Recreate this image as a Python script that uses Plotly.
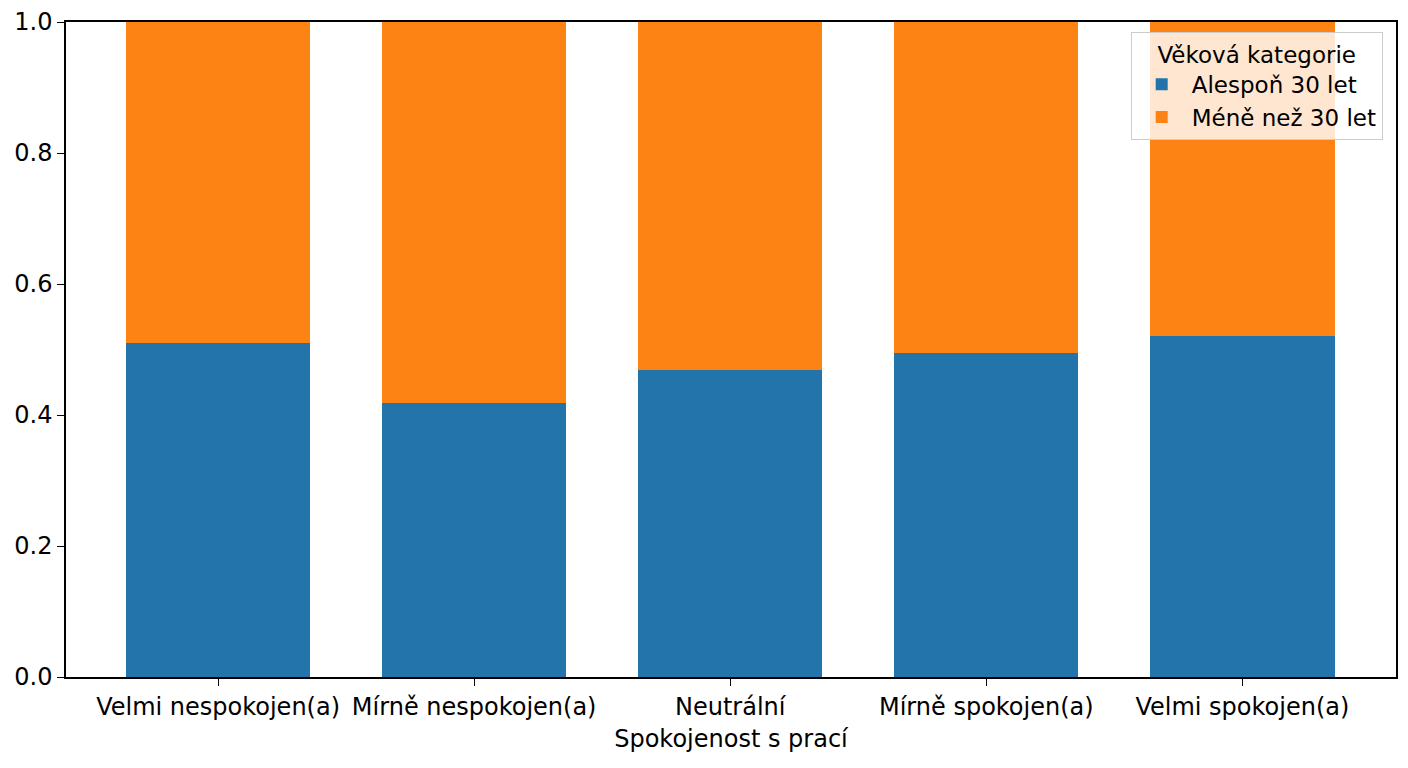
import plotly.graph_objects as go

# Data
kategorie = ["Velmi nespokojen(a)", "Mírně nespokojen(a)", "Neutrální",
             "Mírně spokojen(a)", "Velmi spokojen(a)"]
alespon_30 = [0.510, 0.419, 0.469, 0.495, 0.520]
mene_nez_30 = [0.490, 0.581, 0.531, 0.505, 0.480]

pozice = list(range(len(kategorie)))

fig = go.Figure()
fig.add_trace(go.Bar(x=pozice, y=alespon_30, name="Alespoň 30 let",
                     marker=dict(color="#2374ab", line=dict(width=0)), width=0.72))
fig.add_trace(go.Bar(x=pozice, y=mene_nez_30, name="Méně než 30 let",
                     marker=dict(color="#fd8315", line=dict(width=0)), width=0.72))

fig.update_layout(
    barmode="stack",
    width=1408, height=768,
    margin=dict(l=58, r=20, t=14, b=99, autoexpand=False),
    plot_bgcolor="white", paper_bgcolor="white",
    font=dict(family="DejaVu Sans", size=24, color="black"),
    legend=dict(
        title=dict(text="Věková kategorie", side="top center", font=dict(size=23)),
        x=0.99, y=0.985, xanchor="right", yanchor="top",
        bgcolor="rgba(255,255,255,0.8)", bordercolor="#cccccc", borderwidth=1,
        font=dict(size=23), traceorder="normal", itemwidth=50,
    ),
)
fig.update_xaxes(
    range=[-0.594, 4.6], tickvals=pozice, ticktext=kategorie,
    tickfont=dict(size=24), automargin=False,
    title=dict(text="Spokojenost s prací", standoff=11, font=dict(size=24)),
    showline=True, linecolor="black", linewidth=1.5, mirror=True,
    ticks="outside", ticklen=7, tickcolor="black", showgrid=False,
)
fig.update_yaxes(
    range=[0, 1], tickvals=[0, 0.2, 0.4, 0.6, 0.8, 1.0],
    tickformat=".1f", tickfont=dict(size=24), automargin=False,
    ticklabeloverflow="allow",
    showline=True, linecolor="black", linewidth=1.5, mirror=True,
    ticks="outside", ticklen=7, tickcolor="black", showgrid=False, zeroline=False,
)

fig.write_html("out.html")
